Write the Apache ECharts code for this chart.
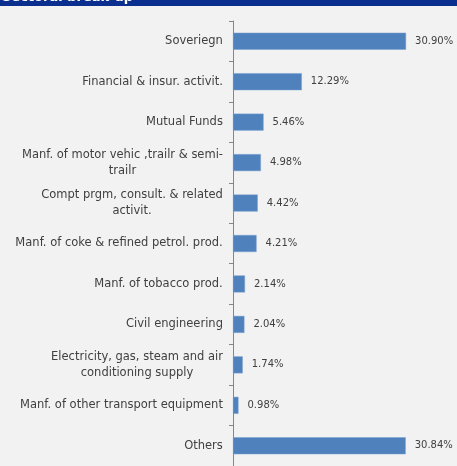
<!DOCTYPE html>
<html><head><meta charset="utf-8">
<script src="https://cdn.jsdelivr.net/npm/echarts@6/dist/echarts.min.js"></script>
<style>html,body{margin:0;padding:0;background:#f2f2f2;}#c{width:457px;height:466px;}</style>
</head><body><div id="c"></div>
<script>
const categories = [
  "Soveriegn",
  "Financial & insur. activit.",
  "Mutual Funds",
  "Manf. of motor vehic ,trailr & semi-\ntrailr",
  "Compt prgm, consult. & related\nactivit.",
  "Manf. of coke & refined petrol. prod.",
  "Manf. of tobacco prod.",
  "Civil engineering",
  "Electricity, gas, steam and air\nconditioning supply",
  "Manf. of other transport equipment",
  "Others"
];
const values = [30.90, 12.29, 5.46, 4.98, 4.42, 4.21, 2.14, 2.04, 1.74, 0.98, 30.84];
const headerTitle = "Sectoral break-up";

const labelFont = '11.5px "DejaVu Sans"';
const cv = document.createElement('canvas').getContext('2d');
cv.font = labelFont;
const rich = {};
categories.forEach((c, i) => {
  const lines = c.split('\n');
  const w = Math.max(...lines.map(l => cv.measureText(l).width));
  rich['l' + i] = {width: Math.ceil(w), align: 'center', fontSize: 11.5, fontFamily: 'DejaVu Sans', color: '#404040', lineHeight: 16};
});

const chart = echarts.init(document.getElementById('c'));
chart.setOption({
  backgroundColor: '#f2f2f2',
  animation: false,
  graphic: [
    {type: 'rect', shape: {x: 0, y: 0, width: 457, height: 6}, style: {fill: '#0a2f8f'}},
    {type: 'text', x: 2, y: 4, style: {text: headerTitle, fill: '#ffffff', font: 'bold 13px "DejaVu Sans"', textVerticalAlign: 'bottom'}}
  ],
  grid: {left: 233, top: 21, width: 225, height: 449, containLabel: false},
  xAxis: {type: 'value', min: 0, max: 40, show: false},
  yAxis: {
    type: 'category', data: categories, inverse: true,
    axisLine: {show: true, lineStyle: {color: '#868686', width: 1}},
    axisTick: {show: true, length: 4, lineStyle: {color: '#868686'}},
    axisLabel: {
      margin: 10, color: '#404040', fontSize: 11.5, fontFamily: 'DejaVu Sans',
      formatter: (v, i) => v.split('\n').map(l => '{l' + i + '|' + l + '}').join('\n'),
      rich: rich
    }
  },
  series: [{
    type: 'bar', data: values, barWidth: 17,
    itemStyle: {color: '#4f81bd', borderColor: '#7aa0d0', borderWidth: 0.5},
    label: {show: true, position: 'right', distance: 9, formatter: p => p.value.toFixed(2) + '%', color: '#404040', fontSize: 10, fontFamily: 'DejaVu Sans'}
  }]
});
</script></body></html>
